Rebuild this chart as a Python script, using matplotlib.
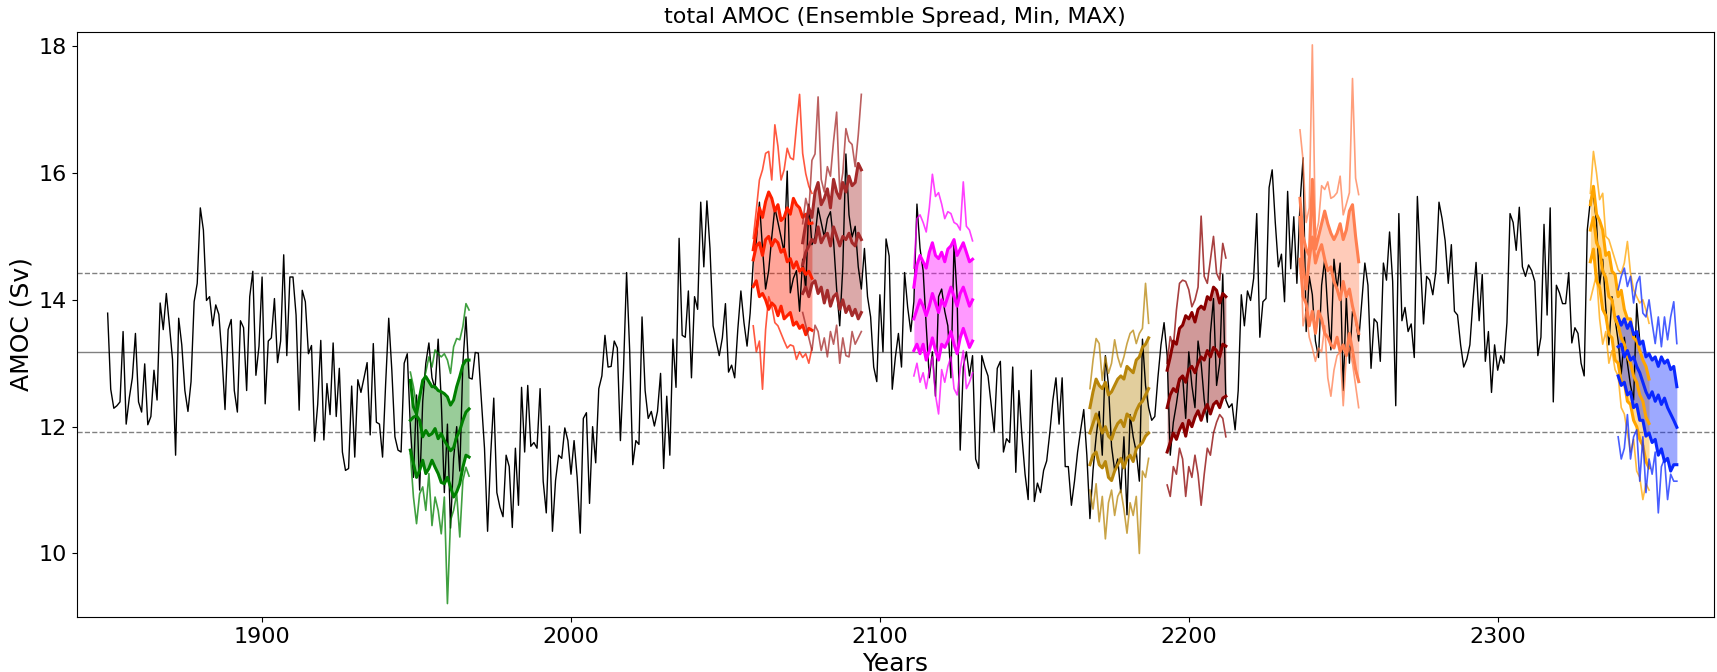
import numpy as np
import matplotlib.pyplot as plt

# control run, annual total AMOC (Sv), starting 1850
ctrl_start = 1850
amoc_ctrl = [
    13.79, 12.59, 12.29, 12.33, 12.39, 13.5, 12.04, 12.45, 12.77, 13.47,
    12.39, 12.23, 12.99, 12.03, 12.16, 12.89, 12.42, 13.95, 13.53, 14.1,
    13.6, 13.06, 11.55, 13.71, 13.29, 12.57, 12.24, 12.71, 13.97, 14.26,
    15.45, 15.1, 13.99, 14.05, 13.59, 13.92, 13.77, 13.12, 12.27, 13.53,
    13.69, 12.57, 12.23, 13.67, 13.56, 12.57, 14.05, 14.45, 12.81, 13.27,
    14.36, 12.36, 13.35, 13.4, 14.02, 13.01, 13.35, 14.71, 13.12, 14.36,
    14.36, 13.76, 12.26, 14.15, 13.97, 13.15, 13.28, 11.77, 12.35, 13.36,
    11.79, 12.68, 12.19, 13.32, 12.16, 12.92, 11.6, 11.31, 11.34, 12.64,
    11.52, 12.74, 12.54, 12.77, 13.01, 11.87, 13.31, 12.07, 12.04, 11.52,
    12.68, 13.71, 12.89, 11.84, 11.63, 11.6, 13.0, 13.15, 12.0, 11.2,
    12.5, 11.0, 12.4, 13.0, 13.32, 12.77, 12.6, 13.38, 12.42, 10.96,
    12.04, 10.4, 11.5, 12.0, 11.3, 13.0, 13.73, 12.77, 12.75, 13.17,
    13.16, 12.42, 11.66, 10.35, 11.55, 12.45, 10.96, 10.73, 10.58, 11.55,
    11.37, 10.41, 11.66, 10.76, 12.62, 11.6, 12.65, 11.69, 11.75, 11.66,
    12.6, 11.14, 10.64, 12.01, 10.35, 11.15, 11.55, 11.5, 11.98, 11.78,
    11.25, 11.78, 11.2, 10.32, 12.13, 12.22, 10.79, 12.0, 11.43, 12.6,
    12.8, 13.44, 12.94, 12.95, 13.35, 13.24, 11.78, 12.9, 14.43, 13.2,
    11.4, 11.78, 11.72, 13.73, 12.57, 12.13, 12.24, 12.01, 12.24, 12.84,
    11.34, 12.48, 11.55, 13.38, 12.62, 14.97, 13.44, 13.41, 14.14, 12.77,
    14.05, 13.85, 15.54, 14.52, 15.56, 14.81, 13.59, 13.35, 13.12, 13.4,
    13.94, 12.86, 12.97, 12.77, 13.53, 14.14, 13.64, 13.27, 13.79, 14.6,
    14.93, 15.54, 14.81, 14.17, 14.46, 14.99, 15.45, 15.22, 14.99, 14.75,
    16.03, 14.11, 14.34, 14.46, 13.82, 14.64, 14.17, 15.51, 14.87, 14.99,
    15.45, 15.22, 14.99, 15.28, 15.39, 14.93, 14.17, 13.59, 14.52, 16.3,
    15.34, 14.99, 15.16, 14.52, 14.17, 14.81, 14.05, 13.73, 12.94, 12.71,
    14.08, 13.18, 14.96, 14.69, 12.59, 13.09, 13.47, 12.94, 14.43, 13.88,
    13.5, 13.97, 15.51, 14.81, 14.46, 13.59, 12.77, 13.18, 12.48, 14.05,
    14.17, 13.82, 13.59, 12.77, 14.87, 14.05, 11.63, 12.94, 13.18, 12.8,
    13.12, 11.49, 11.34, 13.12, 12.94, 12.8, 12.36, 11.92, 12.92, 13.03,
    11.6, 11.81, 11.75, 12.94, 11.28, 12.57, 11.84, 11.25, 10.85, 12.89,
    10.82, 11.11, 10.96, 11.31, 11.46, 11.9, 12.42, 12.77, 12.04, 12.77,
    11.37, 11.37, 10.76, 11.14, 11.6, 11.95, 12.27, 11.55, 10.55, 11.31,
    11.84, 12.24, 11.55, 13.12, 12.65, 11.69, 11.31, 11.49, 10.96, 11.84,
    10.61, 12.19, 11.84, 11.6, 11.14, 13.38, 12.65, 12.3, 12.1, 12.16,
    12.77, 13.29, 13.64, 13.12, 11.55, 12.07, 12.36, 12.71, 12.8, 12.13,
    13.18, 12.65, 12.3, 13.35, 13.0, 12.42, 12.07, 13.47, 14.02, 12.65,
    13.0, 14.4, 12.42, 12.3, 12.36, 11.95, 12.57, 14.08, 13.59, 14.14,
    13.99, 14.34, 15.36, 13.41, 13.97, 14.02, 15.77, 16.05, 15.22, 14.52,
    14.72, 13.97, 15.71, 14.49, 15.31, 14.26, 15.51, 16.24, 13.5, 14.37,
    14.08, 13.35, 13.09, 14.23, 14.64, 13.82, 13.21, 14.64, 14.17, 14.58,
    12.57, 14.05, 13.0, 13.82, 13.7, 13.35, 13.97, 14.58, 14.23, 12.92,
    13.7, 13.64, 13.03, 14.58, 14.31, 15.07, 14.29, 12.33, 15.36, 13.67,
    13.88, 13.5, 13.62, 13.09, 15.63, 14.58, 13.62, 14.37, 14.31, 14.08,
    14.46, 15.54, 15.28, 14.93, 14.26, 14.87, 13.82, 13.76, 13.29, 12.94,
    13.06, 13.29, 13.99, 14.59, 13.67, 14.4, 13.03, 13.5, 12.54, 13.29,
    12.89, 13.12, 13.0, 13.64, 15.36, 15.22, 14.78, 15.46, 14.52, 14.37,
    14.55, 14.46, 14.29, 13.12, 13.41, 15.19, 13.76, 15.45, 12.39, 14.23,
    14.11, 13.94, 13.94, 14.43, 13.32, 13.56, 13.47, 13.0, 12.8, 15.1,
    15.57, 15.66, 15.22, 14.23, 14.64, 13.88, 13.29, 14.05, 13.7, 13.35,
    12.83, 13.41, 13.0, 12.65, 12.42, 13.94, 13.35,
]

# ensembles: 20-year runs, max / mean+std / mean / mean-std / min
green_start = 1948
green_max = [12.86, 12.63, 12.31, 12.47, 12.68, 12.86, 13.1, 12.94, 13.21, 13.15,
             13.1, 13.15, 13.05, 12.84, 13.26, 13.39, 13.37, 13.58, 13.94, 13.84]
green_hi = [12.73, 12.31, 12.2, 12.47, 12.73, 12.79, 12.71, 12.63, 12.63, 12.57,
            12.55, 12.52, 12.47, 12.34, 12.42, 12.63, 12.79, 12.97, 13.05, 13.05]
green_mean = [12.1, 12.15, 12.17, 12.1, 11.84, 11.94, 11.86, 11.89, 11.97, 11.81,
              11.89, 11.78, 11.7, 11.62, 11.67, 11.84, 11.94, 12.1, 12.23, 12.28]
green_lo = [11.63, 11.42, 11.2, 11.31, 11.47, 11.26, 11.34, 11.47, 11.36, 11.26,
            11.12, 11.1, 11.2, 11.05, 10.89, 10.97, 11.1, 11.36, 11.55, 11.52]
green_min = [11.57, 10.89, 10.47, 10.94, 11.05, 10.68, 11.26, 10.44, 10.89, 10.68,
             10.31, 10.89, 9.21, 10.52, 10.68, 10.94, 10.26, 11.15, 11.36, 11.22]

red_start = 2059
red_max = [14.97, 15.42, 15.89, 16.05, 16.31, 16.34, 15.89, 16.76, 16.42, 15.89,
           16.05, 16.39, 16.24, 16.21, 16.74, 17.24, 16.31, 15.99, 15.79, 15.68]
red_hi = [14.79, 15.1, 15.45, 15.3, 15.55, 15.7, 15.6, 15.4, 15.5, 15.25,
          15.3, 15.45, 15.35, 15.6, 15.5, 15.45, 15.3, 15.35, 15.2, 15.21]
red_mean = [14.63, 14.85, 14.9, 14.7, 14.95, 15.0, 14.85, 14.95, 14.9, 14.75,
            14.8, 14.6, 14.65, 14.5, 14.6, 14.45, 14.5, 14.4, 14.45, 14.34]
red_lo = [14.21, 14.3, 14.05, 14.1, 14.0, 13.85, 13.95, 13.9, 13.75, 13.9,
          13.7, 13.75, 13.8, 13.6, 13.65, 13.55, 13.6, 13.45, 13.55, 13.52]
red_min = [13.59, 13.18, 13.35, 12.59, 13.53, 14.05, 13.91, 13.64, 13.59, 13.47,
           13.35, 13.24, 13.29, 13.27, 13.06, 13.18, 13.09, 13.15, 13.0, 13.24]

brown_start = 2075
brown_max = [15.2, 15.6, 15.4, 16.2, 16.3, 17.2, 15.9, 15.7, 16.1, 15.95,
             16.5, 16.96, 15.7, 16.0, 16.7, 16.5, 16.45, 16.1, 16.6, 17.24]
brown_hi = [14.9, 15.2, 15.45, 15.3, 15.7, 15.85, 15.5, 15.6, 15.75, 15.45,
            15.9, 15.7, 15.6, 15.85, 15.7, 15.95, 15.8, 15.85, 16.15, 16.05]
brown_mean = [14.55, 14.75, 14.85, 14.95, 14.9, 15.15, 14.9, 15.0, 15.05, 14.85,
              15.15, 15.0, 14.85, 15.0, 14.95, 15.05, 14.9, 14.85, 15.05, 14.95]
brown_lo = [14.1, 14.2, 14.05, 14.25, 14.3, 14.1, 14.2, 13.95, 14.15, 13.9,
            14.05, 14.1, 13.85, 14.0, 13.8, 13.9, 13.75, 13.85, 13.7, 13.8]
brown_min = [13.8, 13.6, 13.4, 13.2, 13.6, 13.5, 13.2, 13.4, 13.1, 13.5,
             13.3, 13.6, 13.0, 13.4, 13.12, 13.1, 13.5, 13.3, 13.4, 13.5]

magenta_start = 2111
magenta_max = [14.5, 15.28, 15.34, 15.22, 15.07, 15.45, 15.98, 15.63, 15.69, 15.51,
               15.28, 15.39, 15.36, 15.22, 15.19, 15.1, 15.86, 15.16, 15.1, 14.93]
magenta_hi = [14.2, 14.55, 14.7, 14.6, 14.5, 14.75, 14.9, 14.7, 14.65, 14.75,
              14.6, 14.8, 14.85, 14.95, 14.7, 14.8, 14.9, 14.75, 14.6, 14.64]
magenta_mean = [13.7, 13.85, 14.0, 13.9, 13.75, 13.9, 14.1, 13.95, 13.8, 14.0,
                13.9, 14.05, 14.2, 14.05, 13.9, 14.1, 14.2, 14.05, 13.9, 14.0]
magenta_lo = [13.2, 13.3, 13.15, 13.3, 13.05, 13.2, 13.4, 13.2, 13.05, 13.3,
              13.25, 13.35, 13.5, 13.3, 13.15, 13.4, 13.55, 13.4, 13.25, 13.35]
magenta_min = [12.8, 13.0, 12.7, 12.85, 12.6, 12.9, 13.1, 12.5, 12.2, 12.9,
               12.7, 12.95, 13.1, 12.6, 12.5, 12.9, 13.2, 12.6, 12.7, 12.85]

gold_start = 2168
gold_max = [12.6, 13.05, 13.39, 13.31, 12.73, 13.1, 12.84, 13.0, 13.37, 13.1,
            12.94, 13.1, 13.31, 13.47, 13.52, 13.31, 13.47, 13.55, 14.26, 13.63]
gold_hi = [12.3, 12.55, 12.75, 12.65, 12.6, 12.7, 12.5, 12.55, 12.65, 12.75,
           12.8, 12.75, 12.95, 12.9, 12.85, 13.05, 13.1, 13.25, 13.3, 13.4]
gold_mean = [11.9, 12.05, 12.2, 12.05, 11.9, 12.0, 11.85, 11.8, 11.95, 12.05,
             12.1, 12.0, 12.2, 12.15, 12.1, 12.25, 12.35, 12.4, 12.5, 12.6]
gold_lo = [11.4, 11.55, 11.6, 11.4, 11.35, 11.45, 11.2, 11.15, 11.3, 11.4,
           11.5, 11.35, 11.5, 11.55, 11.45, 11.65, 11.7, 11.75, 11.85, 11.9]
gold_min = [11.0, 10.7, 11.1, 10.5, 10.9, 10.23, 10.8, 11.0, 10.6, 10.9,
            11.0, 10.7, 10.32, 10.8, 10.6, 10.9, 10.0, 11.3, 11.2, 11.5]

darkred_start = 2193
darkred_max = [13.0, 13.42, 13.26, 13.84, 14.26, 14.31, 14.29, 14.16, 13.89, 14.0,
               14.2, 15.32, 14.37, 14.26, 14.63, 15.0, 14.42, 14.31, 14.89, 14.66]
darkred_hi = [12.89, 13.1, 13.35, 13.3, 13.55, 13.6, 13.75, 13.7, 13.8, 13.65,
              13.85, 13.9, 13.85, 14.05, 14.0, 14.2, 14.15, 13.95, 14.1, 14.05]
darkred_mean = [12.3, 12.5, 12.6, 12.55, 12.75, 12.8, 12.7, 12.9, 12.95, 12.85,
                13.0, 13.1, 13.05, 13.2, 13.1, 13.25, 13.2, 13.1, 13.3, 13.27]
darkred_lo = [11.6, 11.75, 11.9, 11.8, 11.95, 12.05, 11.85, 12.1, 12.0, 12.15,
              12.25, 12.1, 12.25, 12.35, 12.2, 12.35, 12.4, 12.3, 12.45, 12.48]
darkred_min = [11.08, 10.9, 11.37, 11.25, 11.66, 11.49, 10.9, 11.37, 11.2, 11.55,
               11.25, 10.76, 11.25, 11.66, 11.55, 11.9, 12.07, 12.19, 12.13, 11.84]

coral_start = 2236
coral_max = [16.68, 16.2, 15.22, 15.45, 18.02, 14.99, 15.22, 15.8, 15.74, 15.86,
             15.6, 15.63, 15.69, 15.95, 15.34, 15.51, 15.69, 17.49, 15.92, 15.66]
coral_hi = [15.6, 15.0, 14.8, 14.7, 15.9, 14.8, 15.0, 15.2, 15.4, 15.2,
            15.05, 14.95, 15.05, 15.2, 14.95, 15.1, 15.4, 15.5, 15.0, 14.6]
coral_mean = [15.3, 14.52, 14.17, 14.64, 14.99, 14.58, 14.75, 14.87, 14.64, 14.46,
              14.52, 14.29, 14.17, 14.0, 14.29, 14.05, 14.17, 13.9, 13.7, 13.47]
coral_lo = [14.64, 14.05, 13.94, 13.59, 13.82, 13.47, 13.82, 13.7, 13.47, 13.41,
            13.29, 13.24, 13.41, 13.18, 13.29, 13.12, 13.47, 13.2, 12.9, 12.71]
coral_min = [15.2, 13.59, 13.82, 13.41, 13.24, 13.03, 13.24, 13.18, 13.59, 12.77,
             12.48, 12.89, 13.12, 13.18, 12.33, 13.12, 13.24, 13.0, 12.65, 12.3]

orange_start = 2330
orange_max = [15.68, 16.34, 16.0, 15.58, 15.68, 15.0, 14.95, 14.79, 14.63, 14.47,
              14.42, 14.58, 14.92, 14.42, 14.16, 14.05, 13.95, 14.0, 13.84, 13.63]
orange_hi = [15.5, 15.79, 15.35, 15.25, 15.1, 14.7, 14.75, 14.45, 14.4, 14.05,
             14.15, 13.85, 13.7, 13.7, 13.4, 13.35, 13.2, 13.05, 12.95, 12.75]
orange_mean = [15.1, 15.3, 14.9, 14.8, 14.45, 14.35, 14.05, 14.0, 13.7, 13.6,
               13.4, 13.3, 13.1, 13.0, 12.8, 12.7, 12.5, 12.4, 12.15, 12.05]
orange_lo = [14.6, 14.8, 14.3, 14.2, 13.85, 13.75, 13.45, 13.4, 13.05, 13.0,
             12.7, 12.7, 12.4, 12.35, 12.1, 12.0, 11.8, 11.7, 11.45, 11.35]
orange_min = [14.0, 14.2, 14.4, 13.7, 13.3, 13.5, 13.0, 13.2, 12.9, 12.8,
              12.3, 12.2, 11.9, 11.6, 11.8, 11.3, 11.2, 10.85, 11.1, 11.0]

blue_start = 2339
blue_max = [14.16, 14.37, 14.5, 14.21, 14.37, 13.95, 14.26, 14.37, 13.79, 13.73,
            14.0, 13.63, 13.31, 13.73, 13.26, 13.73, 13.37, 13.73, 13.97, 13.31]
blue_hi = [13.73, 13.6, 13.7, 13.55, 13.65, 13.45, 13.5, 13.3, 13.35, 13.1,
           13.15, 13.05, 13.1, 12.95, 13.1, 13.0, 13.05, 12.9, 12.95, 12.63]
blue_mean = [13.26, 13.3, 13.1, 13.2, 13.05, 13.1, 12.95, 12.85, 12.7, 12.55,
             12.45, 12.55, 12.4, 12.5, 12.35, 12.45, 12.3, 12.2, 12.1, 11.99]
blue_lo = [12.8, 12.65, 12.7, 12.5, 12.55, 12.3, 12.35, 12.1, 12.1, 11.85,
           11.9, 11.75, 11.8, 11.55, 11.65, 11.45, 11.5, 11.3, 11.4, 11.4]
blue_min = [11.84, 11.49, 11.66, 12.19, 11.49, 11.84, 11.95, 11.14, 11.84, 10.96,
            11.49, 11.25, 11.6, 10.64, 11.37, 11.49, 10.85, 11.25, 11.14, 11.14]

# control climatology: mean and +/- 1 std
ctrl_mean = 13.17
ctrl_std = 1.26

ensembles = [
    ('green', green_start, green_max, green_hi, green_mean, green_lo, green_min),
    ('#ff2000', red_start, red_max, red_hi, red_mean, red_lo, red_min),
    ('brown', brown_start, brown_max, brown_hi, brown_mean, brown_lo, brown_min),
    ('magenta', magenta_start, magenta_max, magenta_hi, magenta_mean, magenta_lo, magenta_min),
    ('darkgoldenrod', gold_start, gold_max, gold_hi, gold_mean, gold_lo, gold_min),
    ('darkred', darkred_start, darkred_max, darkred_hi, darkred_mean, darkred_lo, darkred_min),
    ('coral', coral_start, coral_max, coral_hi, coral_mean, coral_lo, coral_min),
    ('orange', orange_start, orange_max, orange_hi, orange_mean, orange_lo, orange_min),
    ('#0a28ff', blue_start, blue_max, blue_hi, blue_mean, blue_lo, blue_min),
]

fig = plt.figure(figsize=(17.17, 6.72), dpi=100)
ax = fig.add_axes([0.0447, 0.082, 0.9535, 0.871])

yrs = np.arange(ctrl_start, ctrl_start + len(amoc_ctrl))

ax.axhline(ctrl_mean, color='grey', lw=1, zorder=0)
ax.axhline(ctrl_mean + ctrl_std, color='grey', lw=1, ls='--', zorder=0)
ax.axhline(ctrl_mean - ctrl_std, color='grey', lw=1, ls='--', zorder=0)

for col, start, emax, ehi, emean, elo, emin in ensembles:
    t = np.arange(start, start + len(emean))
    ax.fill_between(t, elo, ehi, color=col, alpha=0.4, lw=0, zorder=1)
    ax.plot(t, emax, color=col, lw=1.2, alpha=0.75, zorder=3)
    ax.plot(t, emin, color=col, lw=1.2, alpha=0.75, zorder=3)
    for s in (ehi, emean, elo):
        ax.plot(t, s, color=col, lw=2.2, zorder=3)

ax.plot(yrs, amoc_ctrl, color='black', lw=1, zorder=2)

ax.set_xlim(1840, 2370)
ax.set_ylim(9.0, 18.23)
ax.set_xticks([1900, 2000, 2100, 2200, 2300])
ax.set_yticks([10, 12, 14, 16, 18])
ax.tick_params(labelsize=16)
ax.set_xlabel('Years', fontsize=18)
ax.set_ylabel('AMOC (Sv)', fontsize=18)
ax.set_title('total AMOC (Ensemble Spread, Min, MAX)', fontsize=16)

fig.savefig('out.png', dpi=100)
